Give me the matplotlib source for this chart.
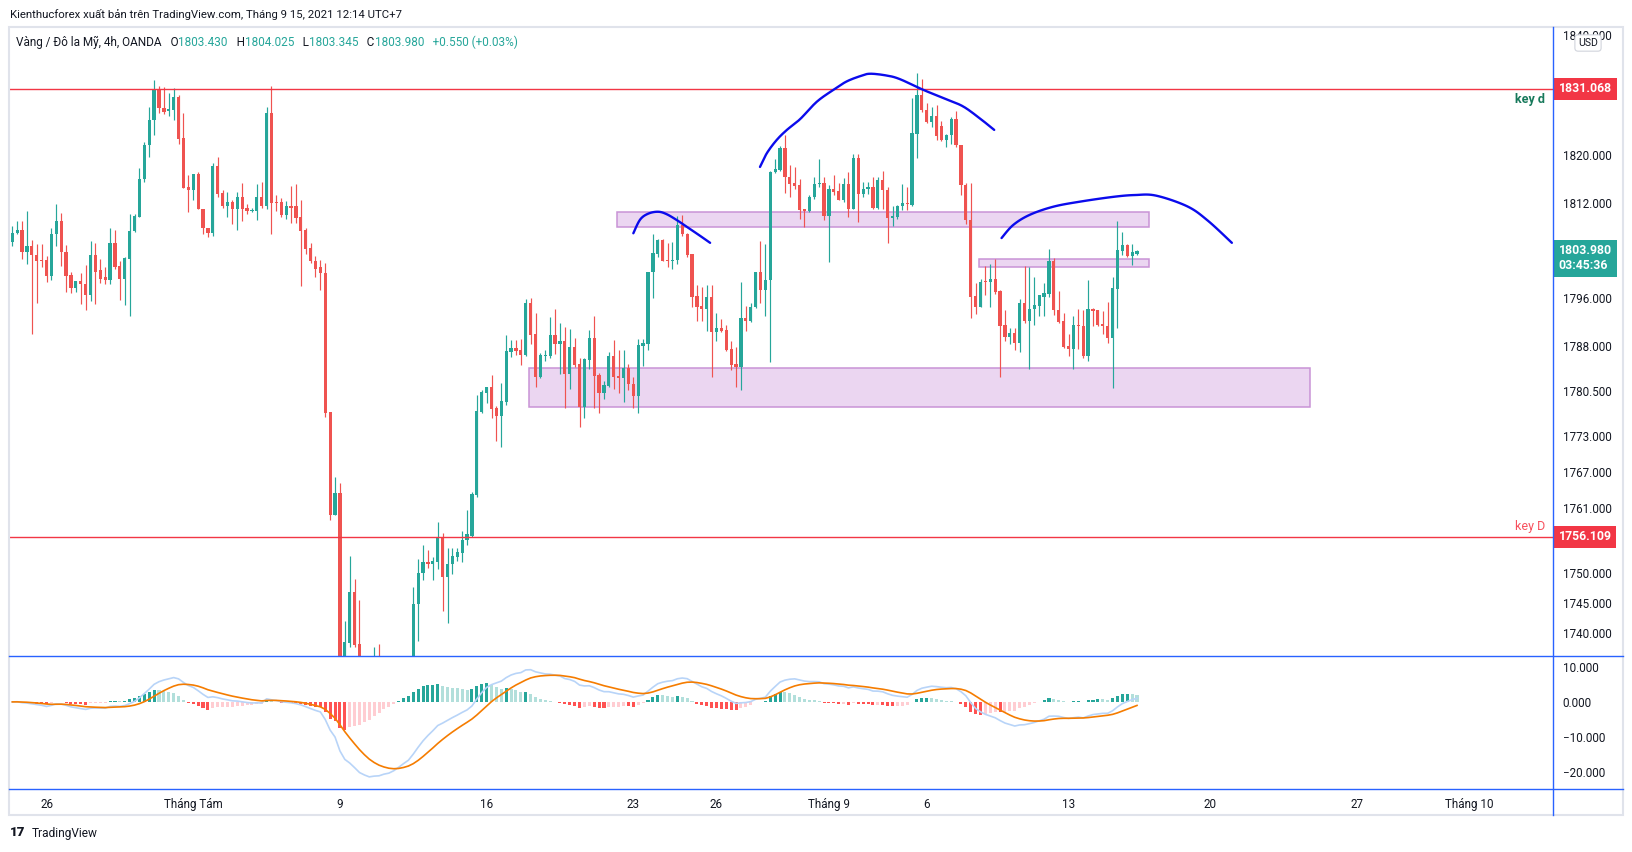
import numpy as np
import pandas as pd
import matplotlib
matplotlib.use('Agg')
import matplotlib.pyplot as plt
import matplotlib.transforms as mtrans
from matplotlib.lines import Line2D
from matplotlib.patches import Rectangle

plt.rcParams['font.family'] = ['Roboto', 'DejaVu Sans']

W, H = 1633, 852

# ---- nến 4h vàng OANDA ----
opens = [1805.5, 1806.9, 1807.5, 1803.7, 1804.8, 1803.2, 1802.4, 1802.4, 1799.7, 1806.7,
         1809.0, 1803.8, 1799.9, 1797.8, 1798.9, 1798.4, 1796.6, 1803.3, 1800.7, 1799.5,
         1799.1, 1805.3, 1801.4, 1799.3, 1802.6, 1807.2, 1809.7, 1815.9, 1821.6, 1825.8,
         1831.1, 1827.9, 1827.3, 1827.6, 1829.7, 1822.9, 1814.7, 1814.2, 1816.8, 1811.0,
         1807.8, 1807.0, 1818.1, 1813.7, 1811.5, 1812.1, 1811.0, 1813.0, 1811.2, 1810.7,
         1810.7, 1812.9, 1811.5, 1827.0, 1812.1, 1812.1, 1810.0, 1811.4, 1811.4, 1809.7,
         1807.5, 1804.4, 1802.3, 1801.2, 1800.3, 1777.0, 1759.8, 1763.4, 1732.0, 1738.4,
         1746.9, 1738.1, 1731.0, 1733.0, 1730.0, 1735.0, 1731.0, 1733.0, 1729.0, 1732.0,
         1734.5, 1735.5, 1734.9, 1744.8, 1750.0, 1751.8, 1751.5, 1751.9, 1756.1, 1749.4,
         1751.5, 1752.8, 1753.4, 1755.5, 1756.2, 1763.1, 1777.0, 1780.2, 1781.2, 1777.7,
         1776.4, 1778.7, 1787.0, 1787.7, 1787.4, 1786.5, 1795.2, 1790.0, 1782.9, 1786.4,
         1786.4, 1789.9, 1788.3, 1788.9, 1783.4, 1787.9, 1785.0, 1777.9, 1785.7, 1789.4,
         1783.1, 1780.2, 1781.4, 1786.3, 1783.0, 1782.6, 1784.4, 1781.7, 1779.6, 1788.1,
         1788.4, 1800.4, 1803.5, 1805.8, 1802.4, 1802.3, 1802.4, 1808.3, 1806.8, 1803.4,
         1796.4, 1794.7, 1794.3, 1796.2, 1790.3, 1791.1, 1790.7, 1787.6, 1785.1, 1784.6,
         1792.8, 1792.3, 1794.5, 1800.4, 1797.4, 1799.0, 1817.1, 1817.5, 1821.2, 1816.4,
         1815.3, 1815.0, 1810.9, 1810.7, 1812.9, 1815.1, 1815.3, 1809.85, 1814.3, 1814.0,
         1812.5, 1815.15, 1811.0, 1819.5, 1813.5, 1814.3, 1814.7, 1811.1, 1815.8, 1814.2,
         1809.4, 1809.7, 1811.4, 1811.9, 1811.7, 1823.5, 1830.0, 1827.6, 1825.5, 1826.5,
         1824.9, 1822.5, 1823.3, 1826.0, 1821.7, 1815.0, 1809.1, 1796.4, 1794.6, 1798.9,
         1798.7, 1799.3, 1797.2, 1791.5, 1789.6, 1790.2, 1788.5, 1795.3, 1792.3, 1794.2,
         1794.8, 1796.3, 1796.8, 1802.3, 1794.1, 1792.2, 1788.0, 1787.6, 1791.6, 1791.45,
         1786.4, 1794.2, 1794.1, 1791.7, 1791.45, 1789.4, 1797.65, 1804.0, 1804.95, 1803.1,
         1803.43]
highs = [1808.1, 1809.0, 1809.0, 1810.6, 1805.8, 1805.1, 1805.1, 1803.1, 1807.8, 1811.8,
         1810.3, 1805.0, 1800.5, 1798.9, 1800.3, 1801.6, 1805.6, 1805.3, 1802.6, 1801.2,
         1807.8, 1807.5, 1802.3, 1803.0, 1810.1, 1810.1, 1817.8, 1822.2, 1828.1, 1832.6,
         1831.6, 1831.3, 1830.4, 1831.2, 1830.0, 1827.1, 1816.7, 1816.8, 1817.2, 1811.0,
         1807.8, 1818.7, 1819.7, 1814.2, 1813.8, 1812.5, 1813.8, 1815.3, 1811.8, 1811.1,
         1815.2, 1815.5, 1828.0, 1831.55, 1813.3, 1812.8, 1812.3, 1814.8, 1815.2, 1812.5,
         1807.7, 1805.3, 1803.1, 1802.4, 1802.0, 1777.0, 1766.1, 1765.1, 1742.0, 1752.9,
         1749.1, 1745.5, 1735.0, 1735.5, 1737.7, 1738.2, 1735.0, 1735.5, 1734.0, 1735.5,
         1735.8, 1735.9, 1747.7, 1752.4, 1754.8, 1753.9, 1752.7, 1758.5, 1756.8, 1754.2,
         1754.2, 1754.3, 1757.1, 1760.6, 1763.6, 1779.8, 1780.6, 1781.2, 1783.2, 1778.0,
         1781.8, 1789.8, 1789.0, 1789.0, 1789.2, 1795.9, 1796.1, 1793.6, 1786.9, 1787.4,
         1792.9, 1794.2, 1791.9, 1791.2, 1790.9, 1789.3, 1786.0, 1786.0, 1790.7, 1793.1,
         1783.5, 1782.2, 1787.0, 1789.0, 1787.3, 1787.3, 1785.0, 1782.9, 1789.2, 1789.2,
         1800.5, 1806.8, 1806.0, 1806.0, 1805.2, 1805.45, 1809.8, 1810.0, 1806.9, 1803.4,
         1798.2, 1797.9, 1798.2, 1798.3, 1793.5, 1792.5, 1791.5, 1788.9, 1787.8, 1798.8,
         1794.7, 1795.2, 1800.4, 1805.6, 1805.1, 1817.3, 1819.3, 1821.5, 1823.3, 1818.3,
         1818.0, 1816.05, 1811.0, 1813.3, 1816.4, 1819.3, 1816.4, 1814.9, 1816.7, 1815.25,
         1816.2, 1817.1, 1820.2, 1820.1, 1815.4, 1815.4, 1816.3, 1816.3, 1817.3, 1814.7,
         1811.5, 1811.6, 1815.15, 1814.6, 1829.6, 1833.8, 1832.7, 1828.65, 1828.1, 1828.4,
         1825.7, 1823.5, 1826.3, 1827.3, 1821.7, 1815.3, 1815.3, 1798.6, 1799.2, 1801.5,
         1801.8, 1802.55, 1797.4, 1794.0, 1791.1, 1791.1, 1795.9, 1801.4, 1801.3, 1799.65,
         1796.6, 1798.5, 1804.3, 1802.8, 1797.25, 1793.5, 1790.0, 1793.1, 1794.2, 1794.1,
         1799.0, 1794.35, 1794.1, 1793.96, 1795.35, 1799.5, 1809.0, 1807.1, 1805.1, 1805.1,
         1804.025]
lows = [1804.7, 1806.8, 1802.6, 1801.7, 1790.1, 1795.3, 1801.2, 1798.8, 1799.0, 1804.8,
        1801.5, 1797.1, 1796.9, 1797.0, 1795.1, 1794.0, 1795.6, 1795.0, 1798.6, 1798.4,
        1798.4, 1800.9, 1795.8, 1794.9, 1793.1, 1807.1, 1809.7, 1815.4, 1819.6, 1823.4,
        1827.1, 1826.9, 1826.5, 1825.9, 1821.9, 1814.4, 1810.5, 1812.5, 1810.9, 1806.8,
        1806.2, 1806.5, 1812.9, 1811.1, 1809.7, 1808.5, 1807.4, 1809.0, 1810.1, 1810.4,
        1809.2, 1811.1, 1811.0, 1806.7, 1810.7, 1809.7, 1809.3, 1808.7, 1808.7, 1798.1,
        1803.5, 1802.0, 1799.5, 1797.4, 1776.1, 1758.9, 1759.7, 1690.0, 1728.0, 1737.6,
        1737.7, 1729.0, 1727.0, 1728.0, 1728.0, 1729.0, 1724.0, 1725.0, 1717.0, 1728.0,
        1731.0, 1732.0, 1733.0, 1738.6, 1748.9, 1750.8, 1748.9, 1750.7, 1743.7, 1741.6,
        1749.8, 1752.1, 1751.8, 1754.7, 1756.1, 1762.7, 1776.8, 1778.5, 1775.9, 1772.2,
        1771.2, 1778.1, 1786.2, 1786.6, 1784.9, 1786.4, 1788.4, 1781.1, 1782.7, 1785.6,
        1786.0, 1786.7, 1783.3, 1777.7, 1780.8, 1784.6, 1774.5, 1776.0, 1784.2, 1777.6,
        1776.9, 1779.2, 1781.2, 1780.9, 1780.2, 1778.7, 1780.7, 1777.6, 1776.9, 1784.7,
        1787.3, 1796.0, 1802.9, 1802.3, 1801.3, 1801.0, 1801.8, 1806.4, 1803.0, 1794.5,
        1792.3, 1792.3, 1790.5, 1782.9, 1788.8, 1790.3, 1787.2, 1784.0, 1781.2, 1780.7,
        1790.6, 1792.0, 1794.4, 1795.3, 1793.0, 1785.3, 1817.0, 1817.4, 1813.6, 1813.0,
        1814.3, 1809.35, 1808.0, 1810.4, 1812.6, 1814.7, 1809.1, 1802.05, 1813.3, 1812.4,
        1812.2, 1809.7, 1810.9, 1808.85, 1812.9, 1813.5, 1810.9, 1811.0, 1811.0, 1805.2,
        1808.2, 1809.35, 1810.8, 1810.8, 1811.5, 1819.45, 1827.25, 1825.3, 1824.75, 1822.5,
        1822.4, 1821.3, 1821.8, 1821.3, 1813.3, 1808.5, 1792.8, 1793.4, 1794.6, 1796.6,
        1794.5, 1796.75, 1782.9, 1788.8, 1788.4, 1787.3, 1787.1, 1791.85, 1784.25, 1791.6,
        1793.1, 1793.1, 1796.3, 1793.2, 1791.85, 1787.7, 1786.4, 1784.25, 1787.5, 1786.0,
        1785.6, 1791.3, 1791.3, 1790.05, 1788.6, 1781.0, 1791.1, 1803.3, 1803.0, 1801.6,
        1803.345]
closes = [1806.9, 1807.5, 1803.7, 1804.8, 1803.2, 1802.3, 1802.3, 1799.7, 1806.8, 1809.0,
          1803.7, 1799.8, 1797.8, 1798.9, 1798.4, 1796.6, 1803.3, 1800.5, 1799.3, 1799.1,
          1805.3, 1801.3, 1799.3, 1802.8, 1807.3, 1809.8, 1816.0, 1821.7, 1825.9, 1831.1,
          1827.8, 1827.2, 1827.7, 1829.7, 1822.7, 1814.5, 1814.2, 1816.8, 1810.9, 1807.7,
          1807.0, 1818.1, 1813.5, 1811.5, 1812.1, 1811.0, 1813.0, 1811.0, 1810.7, 1810.8,
          1812.9, 1811.5, 1827.0, 1812.0, 1812.0, 1810.0, 1811.4, 1811.2, 1809.5, 1807.3,
          1804.3, 1802.2, 1800.9, 1800.2, 1776.9, 1759.8, 1763.4, 1732.0, 1738.5, 1746.9,
          1738.0, 1731.0, 1733.0, 1730.0, 1735.0, 1731.0, 1733.0, 1729.0, 1732.0, 1734.5,
          1735.5, 1734.9, 1744.9, 1750.1, 1751.8, 1751.5, 1752.1, 1756.1, 1749.4, 1751.6,
          1752.9, 1753.5, 1755.6, 1756.5, 1763.3, 1777.2, 1780.3, 1781.2, 1777.5, 1776.4,
          1778.8, 1787.2, 1787.7, 1787.2, 1786.6, 1795.2, 1789.9, 1782.9, 1786.5, 1786.5,
          1789.9, 1788.3, 1788.9, 1783.4, 1787.9, 1784.9, 1777.9, 1785.8, 1789.4, 1783.0,
          1780.2, 1781.5, 1786.3, 1782.9, 1782.6, 1784.4, 1781.6, 1779.6, 1788.2, 1788.5,
          1800.5, 1803.6, 1805.8, 1802.3, 1802.3, 1802.4, 1808.3, 1806.7, 1803.3, 1796.3,
          1794.6, 1794.3, 1796.2, 1790.3, 1791.1, 1790.6, 1787.4, 1784.9, 1784.6, 1792.8,
          1792.3, 1794.6, 1800.4, 1797.4, 1799.1, 1817.2, 1817.7, 1821.2, 1816.3, 1815.2,
          1814.8, 1810.8, 1810.7, 1813.0, 1815.15, 1815.3, 1809.85, 1814.3, 1813.8, 1812.5,
          1815.15, 1811.0, 1819.5, 1813.5, 1814.3, 1814.7, 1811.1, 1815.8, 1814.2, 1809.4,
          1809.8, 1811.5, 1811.9, 1811.75, 1823.6, 1830.0, 1827.5, 1825.5, 1826.5, 1823.2,
          1822.5, 1823.35, 1826.0, 1821.6, 1814.9, 1809.1, 1796.3, 1794.6, 1798.8, 1798.7,
          1799.3, 1797.1, 1791.4, 1789.6, 1790.2, 1788.5, 1795.3, 1792.3, 1794.3, 1794.9,
          1796.5, 1796.9, 1802.3, 1794.0, 1792.1, 1787.9, 1787.6, 1791.6, 1791.3, 1786.4,
          1794.2, 1793.9, 1791.6, 1791.3, 1789.4, 1797.75, 1804.1, 1804.95, 1803.1, 1803.8,
          1803.98]

# đường key
key_d = 1831.068
key_D = 1756.109

# vùng tím (bar đầu, bar cuối, giá dưới, giá trên)
zone_x0 = [105.7, 123.7, 197.75]
zone_x1 = [265.4, 232.5, 232.5]
zone_lo = [1777.9, 1807.9, 1801.2]
zone_hi = [1784.3, 1810.5, 1802.55]

# 3 đường cong vẽ tay
arc1_x = [127.0, 128.4, 130.1, 132.1, 133.8, 135.9, 137.9, 140.6, 142.7]
arc1_y = [1806.9, 1809.2, 1810.2, 1810.5, 1810.1, 1809.1, 1808.0, 1806.5, 1805.3]
arc2_x = [152.9, 154.3, 156.3, 158.4, 161.1, 164.5, 167.9, 170.6, 173.4, 175.4, 178.8,
          181.5, 186.3, 191.1, 194.5, 197.9, 200.8]
arc2_y = [1818.0, 1820.3, 1822.5, 1824.2, 1826.0, 1828.9, 1830.9, 1832.3, 1833.2, 1833.6,
          1833.3, 1832.7, 1830.9, 1829.3, 1828.1, 1826.1, 1824.2]
arc3_x = [202.3, 204.7, 208.1, 212.9, 218.4, 225.2, 229.6, 233.9, 240.3, 244.5, 249.4]
arc3_y = [1806.1, 1808.3, 1810.0, 1811.35, 1812.2, 1813.0, 1813.3, 1813.2, 1811.4, 1809.0,
          1805.3]

# trục
time_pos = [7, 37, 67, 97, 127, 144, 167, 187, 216, 245, 275, 298]
time_lab = ['26', 'Tháng Tám', '9', '16', '23', '26', 'Tháng 9', '6', '13', '20', '27', 'Tháng 10']
price_ticks = [1840, 1820, 1812, 1796, 1788, 1780.5, 1773, 1767, 1761, 1750, 1745, 1740]
macd_ticks = [10, 0, -10, -20]

GREEN = '#26a69a'
RED = '#ef5350'
TXT = '#131722'


def px(x, y):
    # toạ độ pixel -> toạ độ figure
    return x / W, 1 - y / H


def smooth(xs, ys, n=10):
    # catmull-rom qua các điểm đọc được
    p = np.column_stack([xs, ys])
    p = np.vstack([p[0], p, p[-1]])
    out = []
    t = np.linspace(0, 1, n, endpoint=False)[:, None]
    for i in range(1, len(p) - 2):
        p0, p1, p2, p3 = p[i - 1], p[i], p[i + 1], p[i + 2]
        out.append(0.5 * (2 * p1 + (-p0 + p2) * t + (2 * p0 - 5 * p1 + 4 * p2 - p3) * t ** 2
                          + (-p0 + 3 * p1 - 3 * p2 + p3) * t ** 3))
    out.append(p[-2:-1])
    out = np.vstack(out)
    return out[:, 0], out[:, 1]


o = np.array(opens); h = np.array(highs); l = np.array(lows); c = np.array(closes)
x = np.arange(len(c))
cols = np.where(c >= o, GREEN, RED)

fig = plt.figure(figsize=(W / 100, H / 100), dpi=100)
fig.patch.set_facecolor('white')

# khung chính
x0, y0 = px(10, 656)
ax = fig.add_axes([x0, y0, 1543 / W, (656 - 27) / H])
ax.set_xlim(-0.47, 315.07)
ax.set_ylim(1736.15, 1820 + (155 - 27) / 5.975)

for zx0, zx1, zlo, zhi in zip(zone_x0, zone_x1, zone_lo, zone_hi):
    ax.add_patch(Rectangle((zx0, zlo), zx1 - zx0, zhi - zlo, facecolor='#ebd6f1',
                           edgecolor='#c993d6', lw=1.1, zorder=1))

ax.vlines(x, l, h, colors=cols, lw=0.85, zorder=2)
ax.bar(x, np.maximum(np.abs(c - o), 0.15), bottom=np.minimum(o, c), width=0.66,
       color=cols, linewidth=0, zorder=3)

ax.axhline(key_d, color='#f23645', lw=1.0, zorder=4)
ax.axhline(key_D, color='#f23645', lw=1.0, zorder=4)

for axs, ays in [(arc1_x, arc1_y), (arc2_x, arc2_y), (arc3_x, arc3_y)]:
    sx, sy = smooth(axs, ays)
    ax.plot(sx, sy, color='#0b0bec', lw=1.7, solid_capstyle='round', zorder=5)

for s in ax.spines.values():
    s.set_visible(False)
ax.set_xticks([])
ax.yaxis.tick_right()
ax.set_yticks(price_ticks)
ax.set_yticklabels(['%.3f' % v for v in price_ticks])
ax.tick_params(axis='y', length=0, pad=7, labelsize=8.4, labelcolor=TXT)

blend = mtrans.blended_transform_factory(ax.transAxes, ax.transData)
ax.annotate('key d', xy=(0.9948, key_d), xycoords=blend, xytext=(0, -7.5),
            textcoords='offset points', ha='right', va='center', fontsize=9,
            fontweight='bold', color='#17795b', zorder=6)
ax.annotate('key D', xy=(0.9948, key_D), xycoords=blend, xytext=(0, 7.5),
            textcoords='offset points', ha='right', va='center', fontsize=9,
            color='#f7525f', zorder=6)

# nhãn giá trên trục phải
for val, txt in [(key_d, '1831.068'), (key_D, '1756.109')]:
    ax.annotate(txt, xy=(1, val), xycoords=blend, xytext=(4.2, 0), textcoords='offset points',
                ha='left', va='center', fontsize=8.8, fontweight='bold', color='white',
                bbox=dict(boxstyle='square,pad=0.38', fc='#f23645', ec='none'),
                annotation_clip=False, zorder=10)
last = closes[-1]
ax.annotate('%.3f\n03:45:36' % last, xy=(1, last), xycoords=blend, xytext=(4.2, -5.5),
            textcoords='offset points', ha='left', va='center', fontsize=8.8,
            fontweight='bold', color='white', linespacing=1.2,
            bbox=dict(boxstyle='square,pad=0.38', fc=GREEN, ec='none'),
            annotation_clip=False, zorder=10)

# MACD 12 26 9
cs = pd.Series(closes)
macd = cs.ewm(span=12, adjust=False).mean() - cs.ewm(span=26, adjust=False).mean()
signal = macd.ewm(span=9, adjust=False).mean()
hist = (macd - signal).values
prev = np.concatenate([[hist[0]], hist[:-1]])
hcols = np.where(hist >= 0, np.where(hist > prev, '#26a69a', '#b2dfdb'),
                 np.where(hist > prev, '#ffcdd2', '#ff5252'))

x0, y0 = px(10, 789)
ax2 = fig.add_axes([x0, y0, 1543 / W, (789 - 656) / H])
ax2.set_xlim(ax.get_xlim())
ax2.set_ylim(-24.74, 13.04)
ax2.bar(x, hist, width=0.62, color=hcols, linewidth=0, zorder=2)
ax2.plot(x, macd, color='#b8d4f8', lw=1.2, zorder=3)
ax2.plot(x, signal, color='#f57c00', lw=1.2, zorder=4)
for s in ax2.spines.values():
    s.set_visible(False)
ax2.yaxis.tick_right()
ax2.set_yticks(macd_ticks)
ax2.set_yticklabels(['%.3f' % v if v >= 0 else '\u2212%.3f' % -v for v in macd_ticks])
ax2.tick_params(axis='y', length=0, pad=7, labelsize=8.4, labelcolor=TXT)
ax2.set_xticks(time_pos)
ax2.set_xticklabels(time_lab)
ax2.tick_params(axis='x', length=0, pad=6.5, labelsize=8.4, labelcolor=TXT)

# khung và đường phân cách
fig.add_artist(Rectangle(px(9, 815), 1614 / W, (815 - 27) / H, fill=False,
                         edgecolor='#e0e3eb', lw=1.5))
for yy in [656, 789]:
    fig.add_artist(Line2D([9 / W, 1623 / W], [1 - yy / H] * 2, color='#2962ff', lw=1.0))
fig.add_artist(Line2D([1553 / W] * 2, [1 - 27 / H, 1 - 815 / H], color='#2962ff', lw=1.0))

# USD
fig.text(*px(1588, 43), 'USD', ha='center', va='center', fontsize=7.6, color=TXT,
         bbox=dict(boxstyle='round,pad=0.3', fc='white', ec='#d1d4dc', lw=0.8), zorder=12)

# tiêu đề
fig.text(*px(10, 14.5), 'Kienthucforex xuất bản trên TradingView.com, Tháng 9 15, 2021 12:14 UTC+7',
         fontsize=8.2, color=TXT, va='center')
prev_t = fig.text(*px(16, 42), 'Vàng / Đô la Mỹ, 4h, OANDA', fontsize=8.5, color=TXT,
                  va='center')
parts = [('   O', TXT), ('1803.430', GREEN), ('   H', TXT), ('1804.025', GREEN),
         ('   L', TXT), ('1803.345', GREEN), ('   C', TXT), ('1803.980', GREEN),
         ('   +0.550 (+0.03%)', GREEN)]
for s, col in parts:
    prev_t = ax.annotate(s, xy=(1, 0.5), xycoords=prev_t, ha='left', va='center',
                         fontsize=8.5, color=col, annotation_clip=False)

# logo
fig.text(*px(10, 833), '17', fontsize=9.5, fontweight='heavy', color=TXT, va='center')
fig.text(*px(32, 833), 'TradingView', fontsize=8.6, color=TXT, va='center')

fig.savefig('out.png', dpi=100, facecolor='white')
